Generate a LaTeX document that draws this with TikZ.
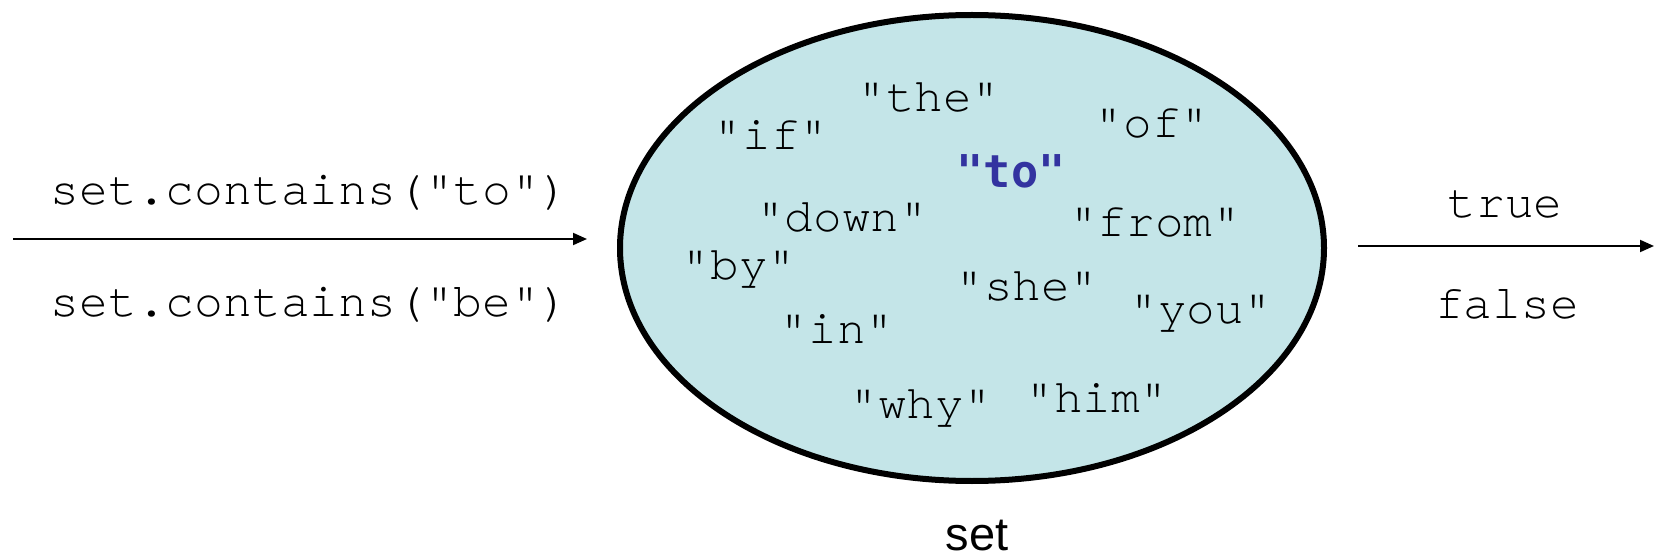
\documentclass[tikz,border=0pt]{standalone}
\usepackage{fontspec}
\setmainfont{Liberation Sans}
\newfontfamily\codefont{TeX Gyre Cursor}
\newfontfamily\keyfont{DejaVu Sans Mono}
\usetikzlibrary{arrows.meta}
\usetikzlibrary{shapes.geometric}
\definecolor{setfill}{RGB}{196,229,232}
\definecolor{keyblue}{RGB}{51,51,160}

\begin{document}
\begin{tikzpicture}[x=0.5pt, y=0.5pt,
  word/.style={font=\codefont\fontsize{23.8}{28}\selectfont, inner sep=0pt},
  call/.style={font=\codefont\fontsize{24}{29}\selectfont, inner sep=0pt},
  flow/.style={line width=1pt, -{Triangle[length=7pt, width=6pt]}}]
  \useasboundingbox (0,0) rectangle (1656,558);

  % the set
  \node[ellipse, draw, line width=3pt, fill=setfill, minimum width=352pt, minimum height=233pt, inner sep=0pt, outer sep=0pt] (set) at (972,310) {};
  \node[font=\fontsize{23.5}{28}\selectfont, inner sep=0pt] (setname) at (977,22) {set};

  % its elements
  \node[word] (the) at (929,460) {"the"};
  \node[word] (if) at (771,423) {"if"};
  \node[word] (of) at (1152,434) {"of"};
  \node[inner sep=0pt, text=keyblue, font=\keyfont\bfseries\fontsize{22.6}{27}\selectfont] (to) at (1011,387) {"to"};
  \node[word] (down) at (842,340) {"down"};
  \node[word] (from) at (1155,335) {"from"};
  \node[word] (by) at (739,288) {"by"};
  \node[word] (she) at (1027,271) {"she"};
  \node[word] (you) at (1201,244) {"you"};
  \node[word] (in) at (837,229) {"in"};
  \node[word] (why) at (921,149) {"why"};
  \node[word] (him) at (1097,160) {"him"};

  % queries and answers
  \node[call] (asktrue) at (310,365) {set.contains("to")};
  \node[call] (askfalse) at (310,253) {set.contains("be")};
  \node[call] (yes) at (1505,354) {true};
  \node[call] (no) at (1507,254) {false};

  \coordinate (query) at (13,319);
  \coordinate (answer) at (1654,312);
  \draw[flow, shorten >=16.5pt] (query) -- (query -| set.west);
  \draw[flow, shorten <=17pt] (answer -| set.east) -- (answer);
\end{tikzpicture}
\end{document}
